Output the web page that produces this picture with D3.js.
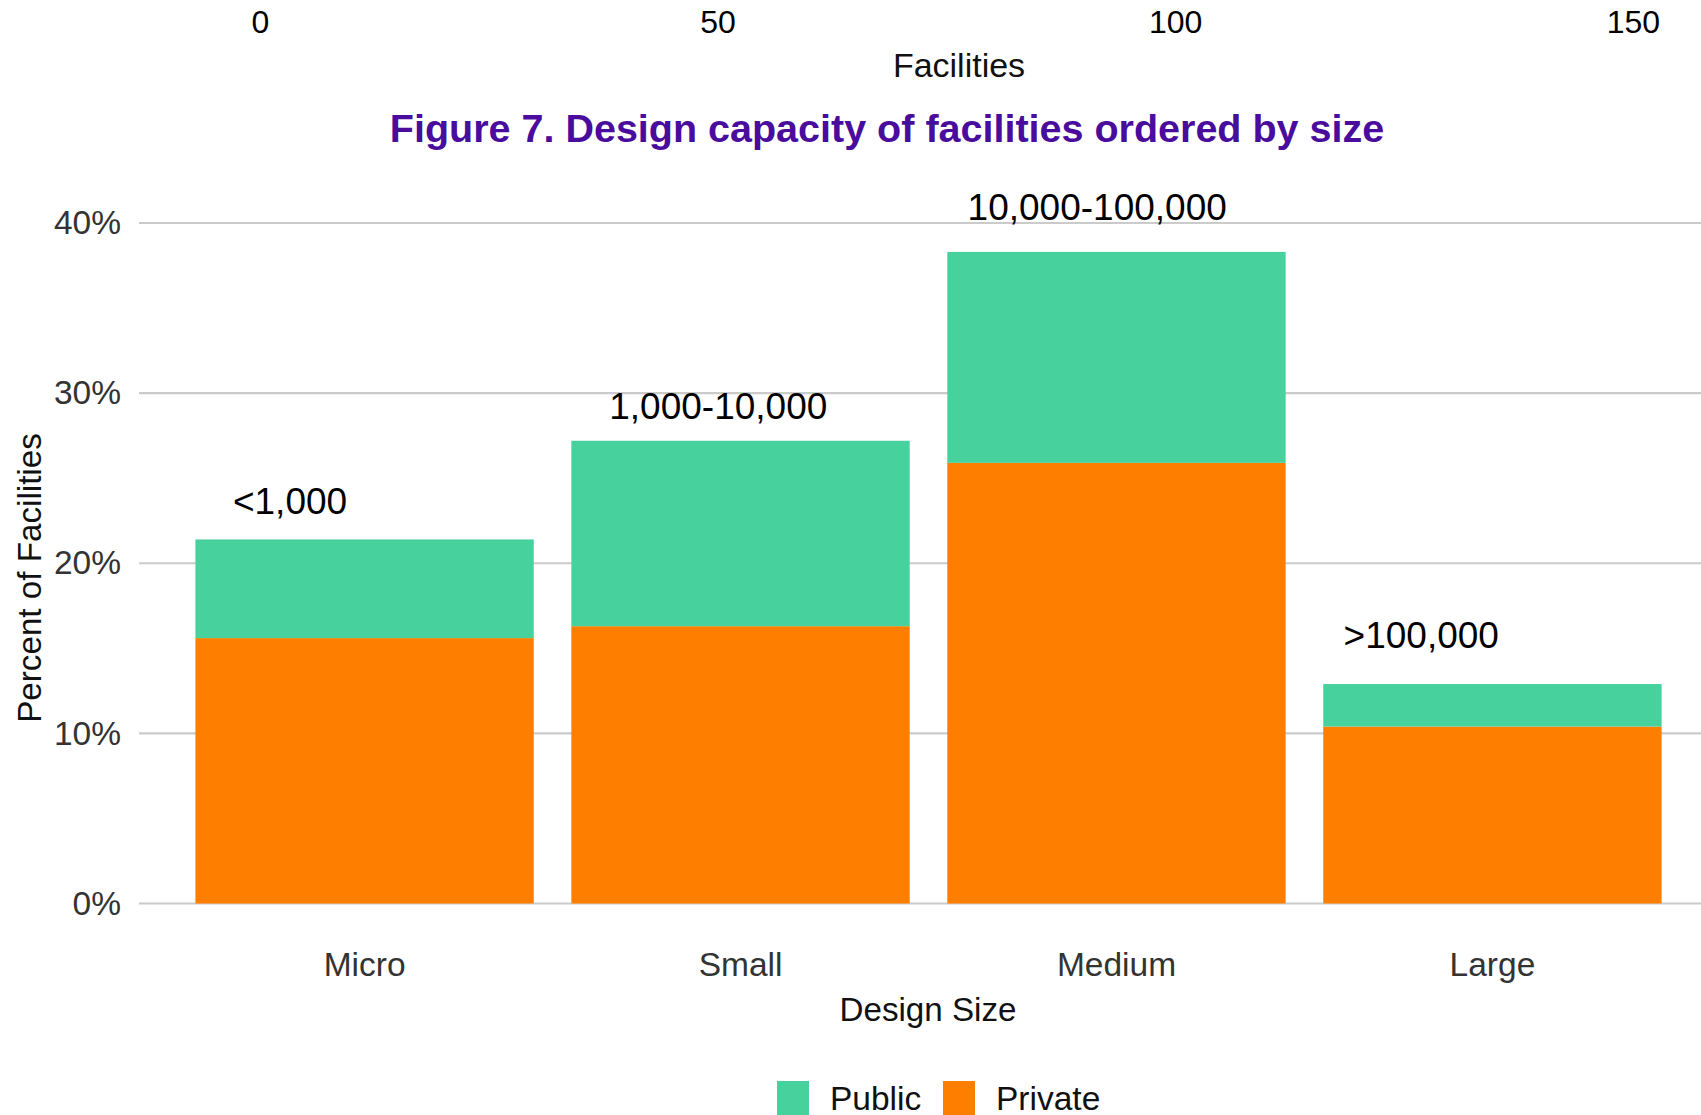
<!DOCTYPE html>
<html>
<head>
<meta charset="utf-8">
<script src="https://cdn.jsdelivr.net/npm/d3@7"></script>
<style>
  body { margin: 0; background: #fff; }
  text { font-family: 'Liberation Sans', Arial, sans-serif; }
</style>
</head>
<body>
<div id="canvas"></div>
<script>
/* global d3 */

// data
var sizes = ['Micro', 'Small', 'Medium', 'Large']
var rangeLabels = ['<1,000', '1,000-10,000', '10,000-100,000', '>100,000']
var privatePct = [15.6, 16.3, 25.9, 10.4]
var publicPct = [5.8, 10.9, 12.4, 2.5]
var labelPct = [22.9, 28.5, 40.2, 15.0]
var yTicks = [0, 10, 20, 30, 40]
var facilityTicks = [0, 50, 100, 150]
var series = ['Public', 'Private']

var width = 1701,
  height = 1115

var panel = {left: 139, right: 1718, top: 150, bottom: 903.5}
var colors = {Public: '#47d29d', Private: '#fe7f00'}

var svg = d3.select('#canvas')
  .append('svg')
  .attr('width', width)
  .attr('height', height)

var x = d3.scaleBand()
  .domain(sizes)
  .range([panel.left, panel.right])
  .paddingInner(0.1)
  .paddingOuter(0.15)

var y = d3.scaleLinear()
  .domain([0, 40])
  .range([panel.bottom, 223])

// secondary top axis (facilities count)
var xTop = d3.scaleLinear()
  .domain([-13.2, 159.3])
  .range([panel.left, panel.right])

// gridlines
svg.append('g')
  .selectAll('line')
  .data(yTicks)
  .enter()
  .append('line')
  .attr('x1', panel.left)
  .attr('x2', panel.right)
  .attr('y1', d => y(d))
  .attr('y2', d => y(d))
  .style('stroke', '#cbcbcb')
  .style('stroke-width', 2.2)

// y axis
svg.append('g')
  .attr('transform', 'translate(' + panel.left + ',0)')
  .call(d3.axisLeft(y).tickValues(yTicks).tickSize(0).tickPadding(18).tickFormat(d => d + '%'))
  .call(g => g.select('.domain').remove())
  .selectAll('text')
  .style('font-size', '33.5px')
  .style('fill', '#333')

// x axis
svg.append('g')
  .attr('transform', 'translate(0,' + panel.bottom + ')')
  .call(d3.axisBottom(x).tickSize(0).tickPadding(49))
  .call(g => g.select('.domain').remove())
  .selectAll('text')
  .style('font-size', '33.5px')
  .style('fill', '#333')

// top axis
svg.append('g')
  .attr('transform', 'translate(0,10)')
  .call(d3.axisBottom(xTop).tickValues(facilityTicks).tickSize(0).tickPadding(0))
  .call(g => g.select('.domain').remove())
  .selectAll('text')
  .style('font-size', '32px')
  .style('fill', '#000')

svg.append('text')
  .attr('x', 959)
  .attr('y', 65)
  .attr('text-anchor', 'middle')
  .attr('dominant-baseline', 'central')
  .style('font-size', '34px')
  .style('fill', '#111')
  .text('Facilities')

// title
svg.append('text')
  .attr('x', 887)
  .attr('y', 128)
  .attr('text-anchor', 'middle')
  .attr('dominant-baseline', 'central')
  .style('font-size', '39.5px')
  .style('font-weight', 'bold')
  .style('fill', '#4a0c9c')
  .text('Figure 7. Design capacity of facilities ordered by size')

// stacked bars
var rows = sizes.map((s, i) => ({size: s, Private: privatePct[i], Public: publicPct[i]}))
var stacked = d3.stack().keys(['Private', 'Public'])(rows)

svg.append('g')
  .selectAll('g')
  .data(stacked)
  .enter()
  .append('g')
  .style('fill', d => colors[d.key])
  .selectAll('rect')
  .data(d => d)
  .enter()
  .append('rect')
  .attr('x', d => x(d.data.size))
  .attr('width', x.bandwidth())
  .attr('y', d => y(d[1]))
  .attr('height', d => y(d[0]) - y(d[1]))

// range annotations
var labelNudge = [0.111, 0.112, 0.06, 0.06]
svg.append('g')
  .selectAll('text')
  .data(rangeLabels)
  .enter()
  .append('text')
  .attr('x', (d, i) => x(sizes[i]) + x.bandwidth() * labelNudge[i])
  .attr('y', (d, i) => y(labelPct[i]))
  .style('font-size', '37px')
  .style('fill', '#000')
  .text(d => d)

// axis titles
svg.append('text')
  .attr('x', 928)
  .attr('y', 1009)
  .attr('text-anchor', 'middle')
  .attr('dominant-baseline', 'central')
  .style('font-size', '33.2px')
  .style('fill', '#111')
  .text('Design Size')

svg.append('text')
  .attr('transform', 'translate(29,578) rotate(-90)')
  .attr('text-anchor', 'middle')
  .attr('dominant-baseline', 'central')
  .style('font-size', '33.2px')
  .style('fill', '#111')
  .text('Percent of Facilities')

// legend
var legendX = [777, 943]
var legend = svg.append('g')
  .selectAll('g')
  .data(series)
  .enter()
  .append('g')
  .attr('transform', (d, i) => 'translate(' + legendX[i] + ',1081)')

legend.append('rect')
  .attr('width', 32)
  .attr('height', 34)
  .style('fill', d => colors[d])

legend.append('text')
  .attr('x', 53)
  .attr('y', 17)
  .attr('dominant-baseline', 'central')
  .style('font-size', '33.5px')
  .style('fill', '#111')
  .text(d => d)
</script>
</body>
</html>
